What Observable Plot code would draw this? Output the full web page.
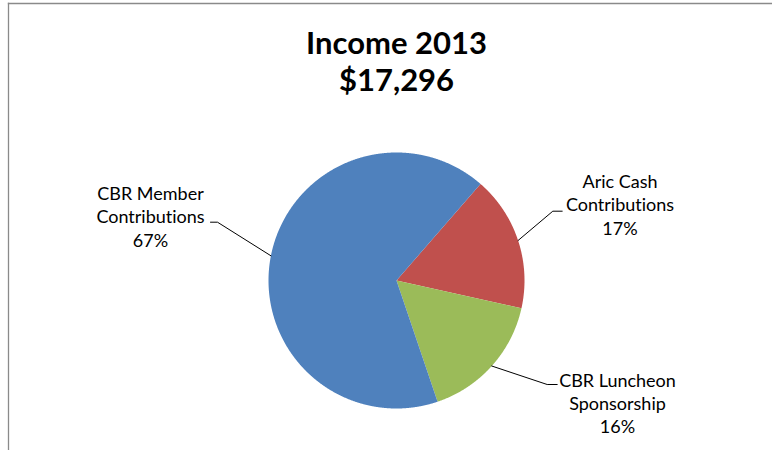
<!DOCTYPE html>
<html>
<head>
<meta charset="utf-8">
<script src="https://cdn.jsdelivr.net/npm/d3@7"></script>
<script src="https://cdn.jsdelivr.net/npm/@observablehq/plot@0.6"></script>
<style>
  html, body { margin: 0; padding: 0; background: #ffffff; }
  #chart svg { display: block; font-variant-ligatures: none; font-feature-settings: "liga" 0, "clig" 0; }
  #chart svg text, #chart svg tspan { font-variant-ligatures: none; font-feature-settings: "liga" 0, "clig" 0; }
</style>
</head>
<body>
<div id="chart"></div>
<script>
// ---- data ----
const categories = ["Aric Cash Contributions", "CBR Luncheon Sponsorship", "CBR Member Contributions"];
const labelNames = ["Aric Cash\nContributions", "CBR Luncheon\nSponsorship", "CBR Member\nContributions"];
const amounts = [2958, 2820, 11518];
const sliceColors = ["#C0504D", "#9BBB59", "#4F81BD"];
const titleText = "Income 2013";

// ---- layout ----
const W = 772, H = 450;
const cx = 396, cy = 280, R = 128;
const startDeg = 41;
// label block anchor (centre x, baseline of last line) and leader elbow (text end, elbow)
const labelLayout = [
  {x: 619.5, y: 234, end: [561.7, 210.7], elbow: [552.3, 210.7]},
  {x: 617,   y: 432.7, end: [556.7, 384], elbow: [546.7, 384]},
  {x: 150,   y: 246, end: [210, 221.7], elbow: [217, 221.7]}
];

const total = d3.sum(amounts);
const rows = categories.map((c, i) => ({category: c, amount: amounts[i], name: labelNames[i]}));

const a0 = startDeg * Math.PI / 180;
const arcs = d3.pie().sort(null).value(d => d.amount).startAngle(a0).endAngle(a0 + 2 * Math.PI)(rows);
const pt = (a, r) => [cx + r * Math.sin(a), cy - r * Math.cos(a)];

const features = arcs.map(a => {
  const n = Math.max(4, Math.ceil((a.endAngle - a.startAngle) / (Math.PI / 720)));
  const ring = [[cx, cy]];
  for (let i = 0; i <= n; i++) ring.push(pt(a.startAngle + (a.endAngle - a.startAngle) * i / n, R));
  ring.push([cx, cy]);
  return {type: "Feature", properties: {category: a.data.category}, geometry: {type: "Polygon", coordinates: [ring]}};
});

const pct = d3.format(".0%");
const labels = arcs.map((a, i) => ({
  x: labelLayout[i].x,
  y: labelLayout[i].y,
  text: a.data.name + "\n" + pct(a.data.amount / total)
}));

const leaders = arcs.flatMap((a, i) => {
  const mid = (a.startAngle + a.endAngle) / 2;
  const rim = pt(mid, R);
  const L = labelLayout[i];
  return [
    {k: i, x: L.end[0], y: L.end[1]},
    {k: i, x: L.elbow[0], y: L.elbow[1]},
    {k: i, x: rim[0], y: rim[1]}
  ];
});

const title = [{x: cx, y: 90.5, text: titleText + "\n" + d3.format("$,")(total)}];

const chart = Plot.plot({
  width: W,
  height: H,
  marginTop: 3,
  marginLeft: 8,
  marginRight: 0,
  marginBottom: 0,
  style: {fontFamily: "Lato, 'Open Sans', sans-serif", background: "#ffffff"},
  projection: {type: "identity", domain: {type: "MultiPoint", coordinates: [[8, 3], [W, H]]}},
  color: {domain: categories, range: sliceColors},
  marks: [
    Plot.frame({anchor: "top", stroke: "#8a8a8a", strokeWidth: 1.3}),
    Plot.frame({anchor: "left", stroke: "#8a8a8a", strokeWidth: 1.3}),
    Plot.geo(features, {fill: d => d.properties.category, stroke: "none"}),
    Plot.line(leaders, {x: "x", y: "y", z: "k", stroke: "#000000", strokeWidth: 1}),
    Plot.text(labels, {x: "x", y: "y", text: "text", fontSize: 18, lineHeight: 1.28, lineAnchor: "bottom", textAnchor: "middle", fill: "#000000"}),
    Plot.text(title, {x: "x", y: "y", text: "text", fontSize: 31, fontWeight: "bold", lineHeight: 1.2, lineAnchor: "bottom", textAnchor: "middle", fill: "#000000"})
  ]
});
document.getElementById("chart").appendChild(chart);
</script>
</body>
</html>
